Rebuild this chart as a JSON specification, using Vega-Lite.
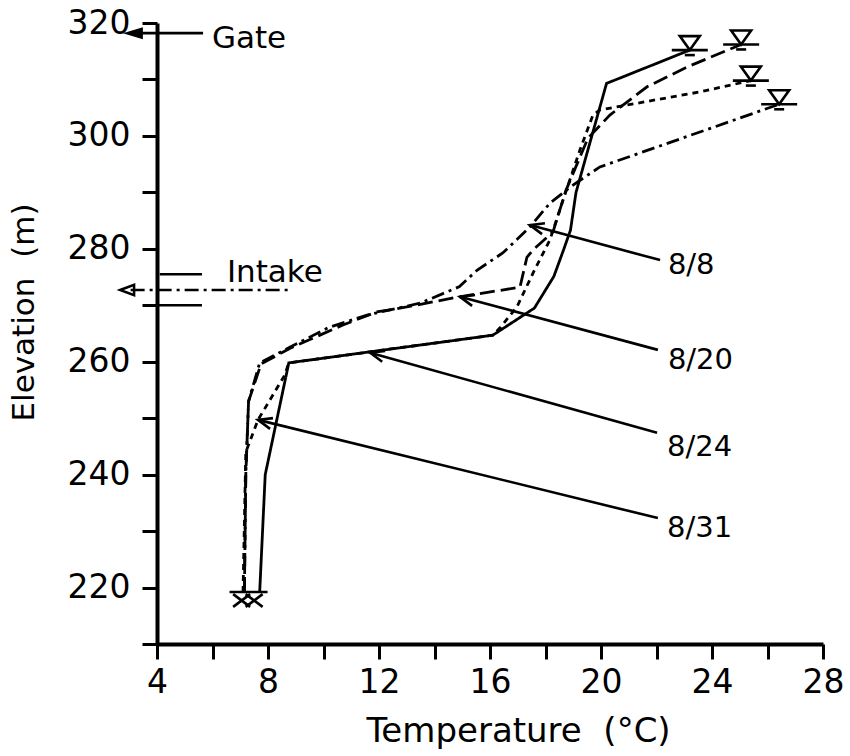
{
  "$schema": "https://vega.github.io/schema/vega-lite/v6.json",
  "width": 666,
  "height": 621,
  "autosize": {"type": "none"},
  "padding": {"left": 157, "top": 23, "right": 27, "bottom": 112},
  "background": "white",
  "config": {"view": {"stroke": null}, "font": "DejaVu Sans"},
  "datasets": {
    "profiles": [
      {"date": "8/24", "T": 7.7, "E": 219.2},
      {"date": "8/24", "T": 7.9, "E": 240},
      {"date": "8/24", "T": 8.75, "E": 259.8},
      {"date": "8/24", "T": 16.1, "E": 264.7},
      {"date": "8/24", "T": 17.6, "E": 269.5},
      {"date": "8/24", "T": 18.3, "E": 275.1},
      {"date": "8/24", "T": 18.65, "E": 279.8},
      {"date": "8/24", "T": 18.9, "E": 283.3},
      {"date": "8/24", "T": 19.1, "E": 290},
      {"date": "8/24", "T": 20.2, "E": 309.3},
      {"date": "8/24", "T": 23.2, "E": 315.2},

      {"date": "8/20", "T": 7.15, "E": 219.2},
      {"date": "8/20", "T": 7.2, "E": 240},
      {"date": "8/20", "T": 7.3, "E": 253},
      {"date": "8/20", "T": 7.75, "E": 259.6},
      {"date": "8/20", "T": 8.8, "E": 262.4},
      {"date": "8/20", "T": 10.7, "E": 266.5},
      {"date": "8/20", "T": 11.9, "E": 268.8},
      {"date": "8/20", "T": 13.0, "E": 269.7},
      {"date": "8/20", "T": 14.9, "E": 271.5},
      {"date": "8/20", "T": 17.08, "E": 273.2},
      {"date": "8/20", "T": 17.33, "E": 278.5},
      {"date": "8/20", "T": 17.55, "E": 279.8},
      {"date": "8/20", "T": 18.27, "E": 283},
      {"date": "8/20", "T": 18.74, "E": 290.4},
      {"date": "8/20", "T": 19.53, "E": 299.6},
      {"date": "8/20", "T": 20.32, "E": 303.7},
      {"date": "8/20", "T": 21.66, "E": 308.7},
      {"date": "8/20", "T": 23.1, "E": 312.2},
      {"date": "8/20", "T": 25.05, "E": 316.2},

      {"date": "8/8", "T": 7.15, "E": 219.2},
      {"date": "8/8", "T": 7.2, "E": 240},
      {"date": "8/8", "T": 7.3, "E": 253},
      {"date": "8/8", "T": 7.7, "E": 259.8},
      {"date": "8/8", "T": 8.8, "E": 262.6},
      {"date": "8/8", "T": 10.2, "E": 266.1},
      {"date": "8/8", "T": 11.6, "E": 268.3},
      {"date": "8/8", "T": 13.5, "E": 270.4},
      {"date": "8/8", "T": 14.9, "E": 273.3},
      {"date": "8/8", "T": 15.53, "E": 276.2},
      {"date": "8/8", "T": 16.47, "E": 279.3},
      {"date": "8/8", "T": 17.44, "E": 283.9},
      {"date": "8/8", "T": 18.16, "E": 288.1},
      {"date": "8/8", "T": 18.99, "E": 291.3},
      {"date": "8/8", "T": 19.96, "E": 294.5},
      {"date": "8/8", "T": 26.42, "E": 305.6},

      {"date": "8/31", "T": 7.1, "E": 219.2},
      {"date": "8/31", "T": 7.2, "E": 244},
      {"date": "8/31", "T": 7.64, "E": 249.7},
      {"date": "8/31", "T": 8.6, "E": 257.6},
      {"date": "8/31", "T": 8.75, "E": 259.8},
      {"date": "8/31", "T": 16.1, "E": 264.7},
      {"date": "8/31", "T": 16.36, "E": 266},
      {"date": "8/31", "T": 16.97, "E": 269.7},
      {"date": "8/31", "T": 17.55, "E": 275.7},
      {"date": "8/31", "T": 18.16, "E": 281.6},
      {"date": "8/31", "T": 18.63, "E": 288.6},
      {"date": "8/31", "T": 19.24, "E": 297.5},
      {"date": "8/31", "T": 19.71, "E": 303.7},
      {"date": "8/31", "T": 19.96, "E": 304.6},
      {"date": "8/31", "T": 23.57, "E": 307.8},
      {"date": "8/31", "T": 25.4, "E": 309.8}
    ],
    "rules": [
      {"T": 17.44, "E": 284.2, "T2": 22.13, "E2": 278.0},
      {"T": 14.92, "E": 271.5, "T2": 22.05, "E2": 262.1},
      {"T": 11.68, "E": 261.6, "T2": 22.02, "E2": 247.4},
      {"T": 7.64, "E": 249.7, "T2": 22.05, "E2": 232.3},
      {"T": 3.2, "E": 318.2, "T2": 5.66, "E2": 318.2},
      {"T": 4.1, "E": 275.5, "T2": 5.62, "E2": 275.5},
      {"T": 4.0, "E": 270.0, "T2": 5.62, "E2": 270.0}
    ],
    "intake": [
      {"T": 3.05, "E": 272.7, "T2": 8.8, "E2": 272.7}
    ],
    "leaderTips": [
      {"T": 17.44, "E": 284.2},
      {"T": 14.92, "E": 271.5},
      {"T": 11.68, "E": 261.6},
      {"T": 7.64, "E": 249.7}
    ],
    "gateHead": [{"T": 2.77, "E": 318.2}],
    "intakeHead": [{"T": 2.67, "E": 272.7}],
    "surface": [
      {"date": "8/24", "T": 23.2, "E": 315.2},
      {"date": "8/20", "T": 25.05, "E": 316.2},
      {"date": "8/31", "T": 25.4, "E": 309.8},
      {"date": "8/8", "T": 26.42, "E": 305.6}
    ],
    "bed": [{"T": 7.3, "E": 219.2}],
    "bedCross": [{"T": 7.05, "E": 217.7}, {"T": 7.5, "E": 217.7}],
    "notes": [
      {"label": "Gate", "T": 5.98, "E": 315.6},
      {"label": "Intake", "T": 6.52, "E": 274.1}
    ],
    "dates": [
      {"label": "8/8", "T": 22.41, "E": 277.1},
      {"label": "8/20", "T": 22.41, "E": 260.3},
      {"label": "8/24", "T": 22.38, "E": 244.9},
      {"label": "8/31", "T": 22.38, "E": 230.5}
    ]
  },
  "encoding": {
    "x": {
      "field": "T",
      "type": "quantitative",
      "scale": {"domain": [4, 28], "nice": false, "zero": false},
      "axis": {
        "title": "Temperature\u00a0\u00a0(°C)",
        "values": [4, 6, 8, 10, 12, 14, 16, 18, 20, 22, 24, 26, 28],
        "labelExpr": "datum.value % 4 === 0 ? datum.label : ''",
        "grid": false,
        "domainColor": "black",
        "domainWidth": 4,
        "tickColor": "black",
        "tickWidth": 3,
        "tickSize": 15,
        "labelColor": "black",
        "labelFont": "DejaVu Sans",
        "labelFontSize": 33,
        "labelPadding": 7,
        "labelFlush": false,
        "labelOverlap": false,
        "titleFont": "DejaVu Sans",
        "titleFontSize": 34,
        "titleFontWeight": "normal",
        "titleColor": "black",
        "titleX": 361,
        "titleY": 97,
        "titleBaseline": "alphabetic"
      }
    },
    "y": {
      "field": "E",
      "type": "quantitative",
      "scale": {"domain": [210, 320], "nice": false, "zero": false},
      "axis": {
        "title": "Elevation\u00a0\u00a0(m)",
        "values": [210, 220, 230, 240, 250, 260, 270, 280, 290, 300, 310, 320],
        "labelExpr": "datum.value % 20 === 0 ? datum.label : ''",
        "grid": false,
        "domainColor": "black",
        "domainWidth": 4,
        "tickColor": "black",
        "tickWidth": 3,
        "tickSize": 15,
        "labelColor": "black",
        "labelFont": "DejaVu Sans",
        "labelFontSize": 33,
        "labelPadding": 12,
        "labelFlush": false,
        "labelOverlap": false,
        "titleFont": "DejaVu Sans",
        "titleFontSize": 31,
        "titleFontWeight": "normal",
        "titleColor": "black",
        "titleAngle": -90,
        "titleX": -124,
        "titleY": 289,
        "titleBaseline": "alphabetic"
      }
    }
  },
  "layer": [
    {
      "data": {"name": "profiles"},
      "mark": {"type": "line", "color": "black", "strokeWidth": 2.8, "strokeCap": "butt"},
      "encoding": {
        "detail": {"field": "date", "type": "nominal"},
        "order": {"field": "E", "type": "quantitative"},
        "strokeDash": {
          "field": "date",
          "type": "nominal",
          "scale": {
            "domain": ["8/8", "8/20", "8/24", "8/31"],
            "range": [[13, 5, 3, 5], [15, 6], [1, 0], [6, 5]]
          },
          "legend": null
        }
      }
    },
    {
      "data": {"name": "rules"},
      "mark": {"type": "rule", "color": "black", "strokeWidth": 2.6},
      "encoding": {
        "x2": {"field": "T2"},
        "y2": {"field": "E2"}
      }
    },
    {
      "data": {"name": "intake"},
      "mark": {"type": "rule", "color": "black", "strokeWidth": 2.6, "strokeDash": [14, 5, 3, 5]},
      "encoding": {
        "x2": {"field": "T2"},
        "y2": {"field": "E2"}
      }
    },
    {
      "data": {"name": "leaderTips"},
      "mark": {"type": "point", "shape": "M2,-0.8L0,0L2,0.8", "filled": false, "color": "black", "opacity": 1, "strokeWidth": 2.6, "size": 196, "angle": 15}
    },
    {
      "data": {"name": "gateHead"},
      "mark": {"type": "point", "shape": "M0,0L2,-0.6L2,0.6Z", "filled": true, "color": "black", "opacity": 1, "size": 400}
    },
    {
      "data": {"name": "intakeHead"},
      "mark": {"type": "point", "shape": "M0,0L2,-0.75L2,0.75Z", "filled": false, "color": "black", "opacity": 1, "strokeWidth": 2.5, "size": 196}
    },
    {
      "data": {"name": "surface"},
      "mark": {"type": "point", "shape": "M-1,-1.4L1,-1.4L0,0Z", "filled": false, "color": "black", "opacity": 1, "strokeWidth": 2.6, "size": 400}
    },
    {
      "data": {"name": "surface"},
      "mark": {"type": "tick", "orient": "horizontal", "size": 36, "thickness": 2.6, "color": "black", "opacity": 1}
    },
    {
      "data": {"name": "surface"},
      "mark": {"type": "tick", "orient": "horizontal", "size": 10, "thickness": 2.6, "color": "black", "opacity": 1, "yOffset": 5}
    },
    {
      "data": {"name": "bed"},
      "mark": {"type": "tick", "orient": "horizontal", "size": 38, "thickness": 2.6, "color": "black", "opacity": 1}
    },
    {
      "data": {"name": "bedCross"},
      "mark": {"type": "point", "shape": "M-1,-0.75L1,0.75M-1,0.75L1,-0.75", "filled": false, "color": "black", "opacity": 1, "strokeWidth": 2.6, "size": 289}
    },
    {
      "data": {"name": "notes"},
      "mark": {"type": "text", "align": "left", "baseline": "alphabetic", "font": "DejaVu Sans", "fontSize": 31, "color": "black"},
      "encoding": {"text": {"field": "label"}}
    },
    {
      "data": {"name": "dates"},
      "mark": {"type": "text", "align": "left", "baseline": "middle", "font": "DejaVu Sans", "fontSize": 29, "color": "black"},
      "encoding": {"text": {"field": "label"}}
    }
  ]
}
